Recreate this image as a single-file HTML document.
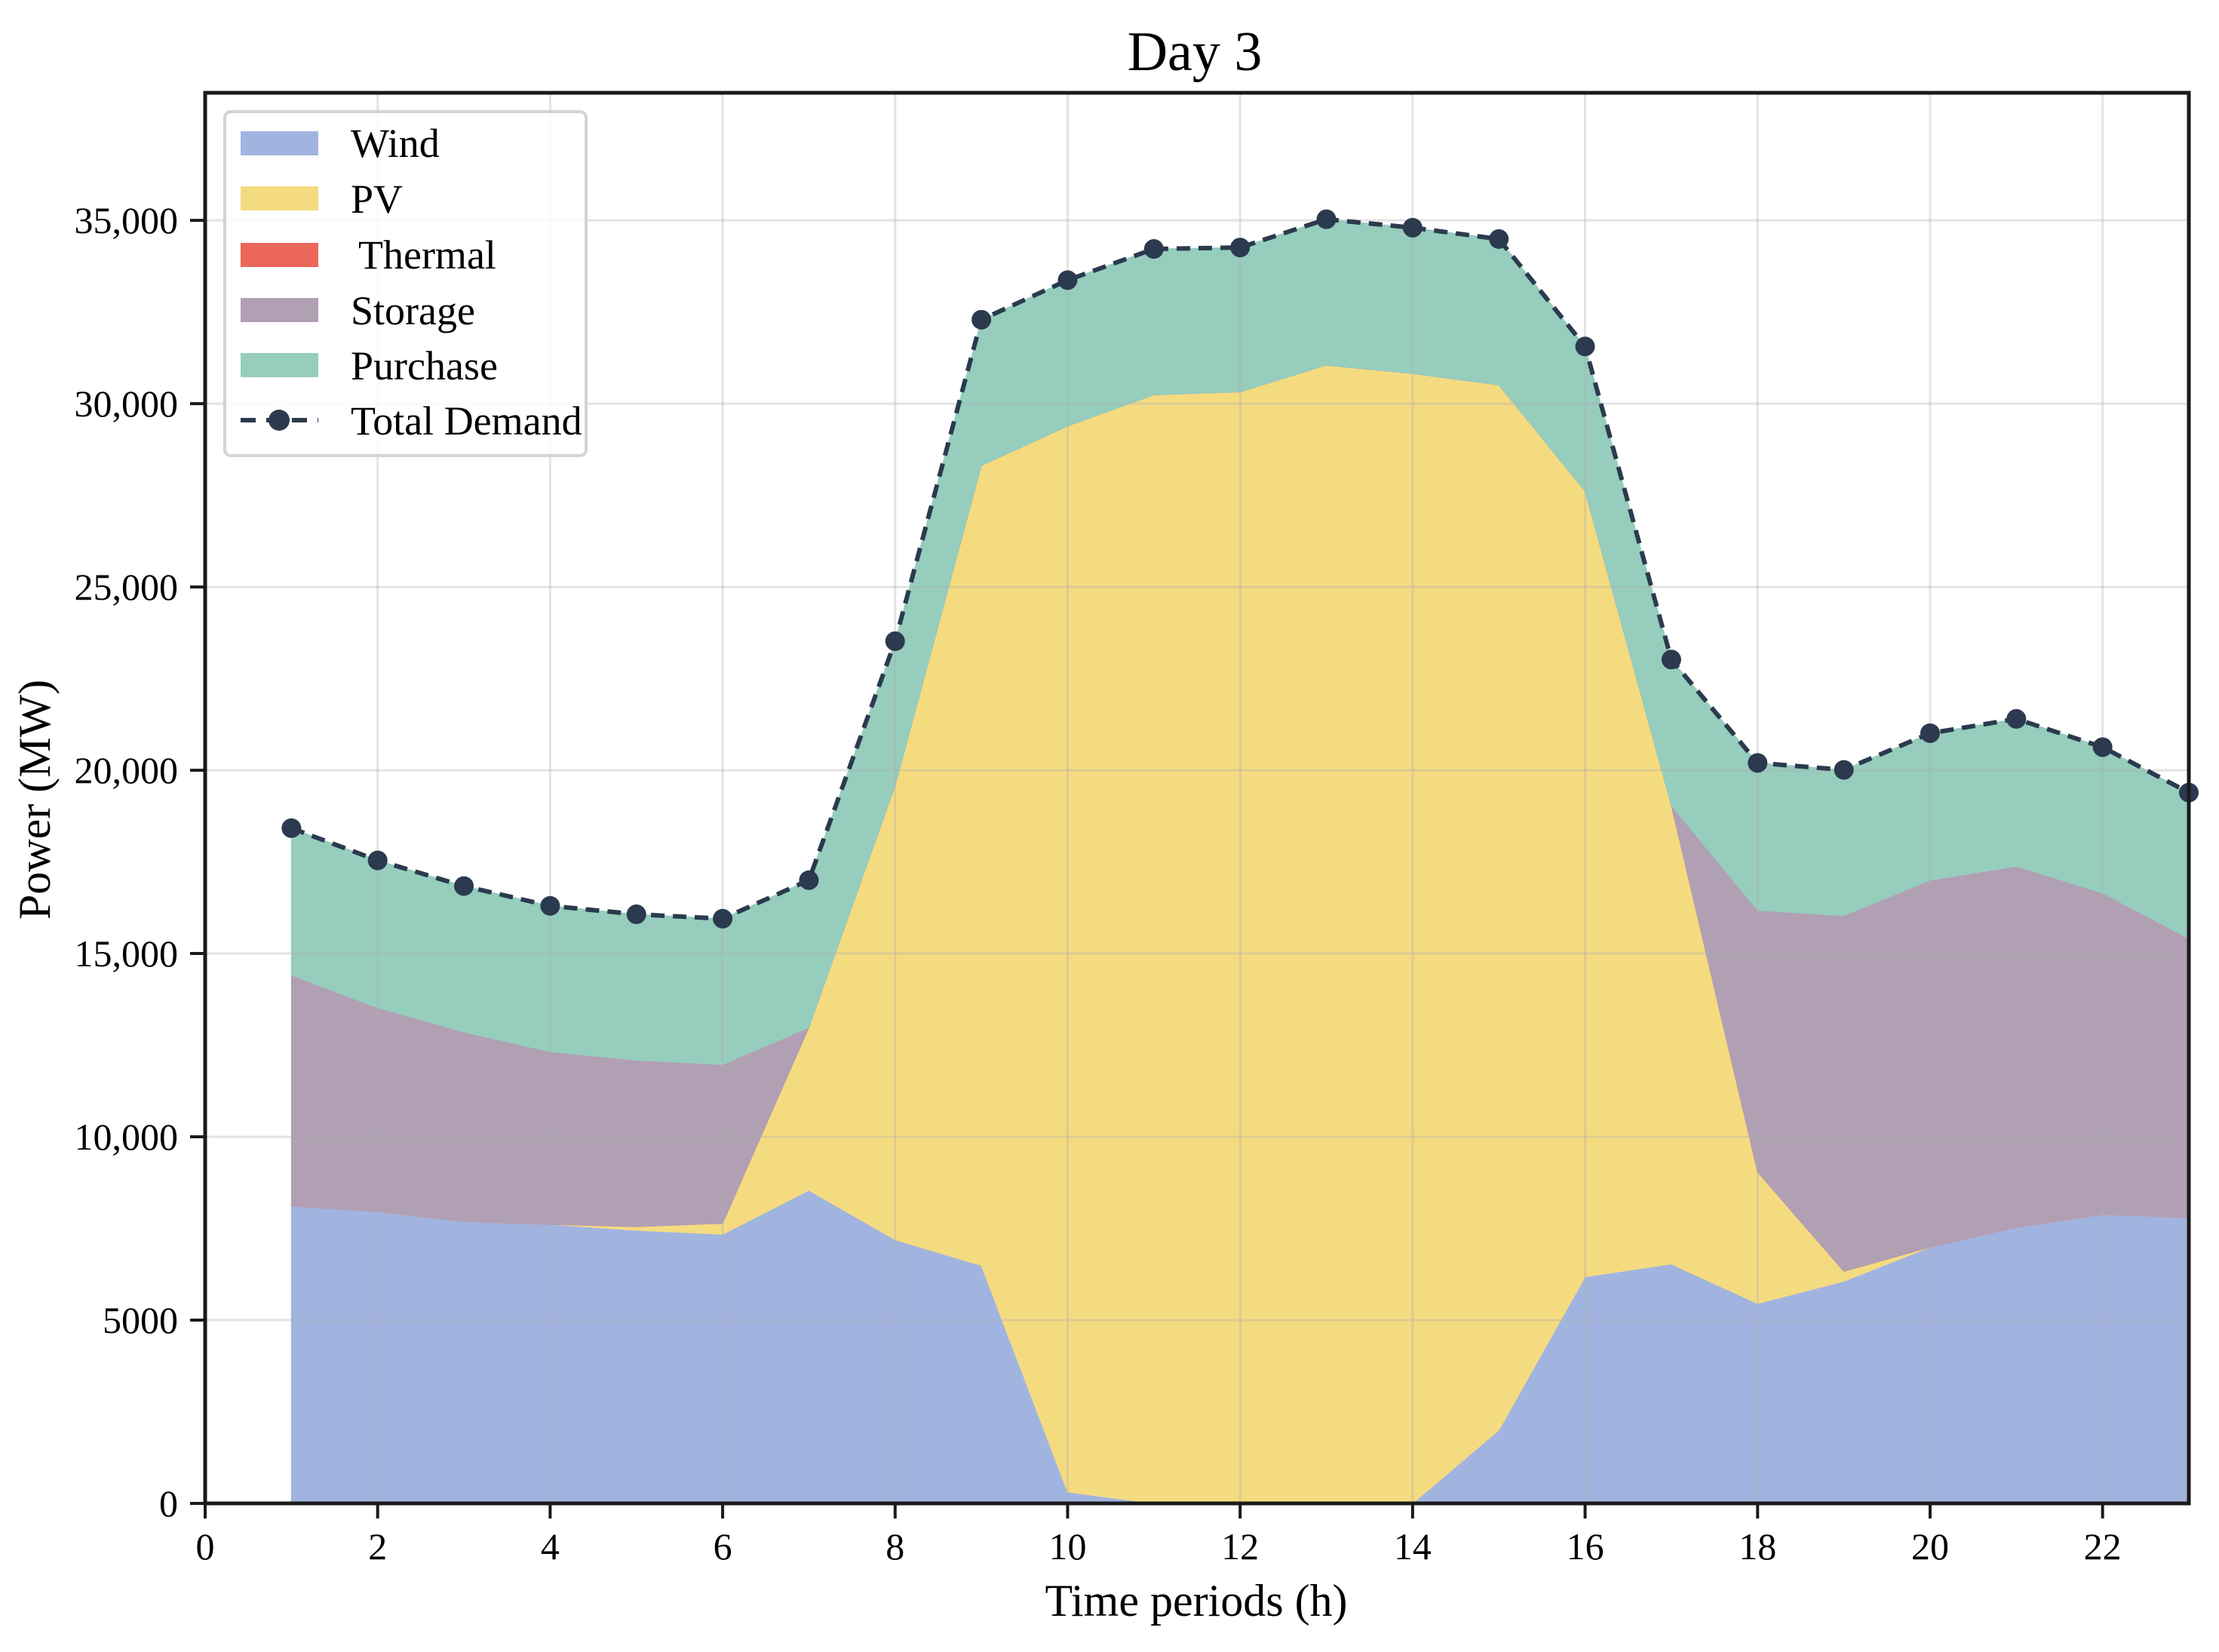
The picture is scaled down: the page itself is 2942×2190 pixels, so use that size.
<!DOCTYPE html>
<html><head><meta charset="utf-8">
<style>
html,body{margin:0;padding:0;background:#fff;}
svg{display:block;font-family:"Liberation Serif","Times New Roman",serif;}
</style></head>
<body>
<svg id="chart" width="2942" height="2190" viewBox="0 0 2942 2190" xmlns="http://www.w3.org/2000/svg">
<g id="areas"></g>
<g id="grid"></g>
<g id="line"></g>
<g id="axes"></g>
<text x="1584" y="93" font-size="74" text-anchor="middle">Day 3</text>
<text x="1586" y="2142" font-size="60" text-anchor="middle">Time periods (h)</text>
<text transform="translate(66,1060) rotate(-90)" font-size="60" text-anchor="middle">Power (MW)</text>
<g>
<rect x="298" y="148" width="479" height="456" rx="8" fill="#fff" fill-opacity="0.85" stroke="#d4d4d4" stroke-width="4"/>
<rect x="319" y="174" width="103" height="32" fill="#a1b4e0"/>
<text x="465" y="208" font-size="54">Wind</text>
<rect x="319" y="247" width="103" height="32" fill="#f5db80"/>
<text x="465" y="282" font-size="54">PV</text>
<rect x="319" y="322" width="103" height="32" fill="#ea6759"/>
<text x="475" y="356" font-size="54">Thermal</text>
<rect x="319" y="395" width="103" height="32" fill="#b19fb4"/>
<text x="465" y="430" font-size="54">Storage</text>
<rect x="319" y="468" width="103" height="32" fill="#96cdbd"/>
<text x="465" y="503" font-size="54">Purchase</text>
<line x1="319" y1="557" x2="422" y2="557" stroke="#2b3a4e" stroke-width="6" stroke-dasharray="20,14"/>
<circle cx="370" cy="557" r="14" fill="#2b3a4e"/>
<text x="465" y="576" font-size="54">Total Demand</text>
</g>
</svg>
<script>
const hours = [1,2,3,4,5,6,7,8,9,10,11,12,13,14,15,16,17,18,19,20,21,22,23];
const wind = [8110,7960,7690,7610,7450,7340,8540,7190,6490,310,0,0,0,0,2000,6180,6530,5450,6060,6990,7530,7880,7800];
const pv = [0,0,0,0,100,300,4440,12390,21820,29080,30240,30320,31050,30820,28510,21430,12510,3590,270,0,0,0,0];
const thermal = [0,0,0,0,0,0,0,0,0,0,0,0,0,0,0,0,0,0,0,0,0,0,0];
const storage = [6300,5560,5170,4710,4540,4330,0,0,0,0,0,0,0,0,0,0,0,7140,9700,10010,9850,8770,7610];
const purchase = [4010,4020,3980,3980,3980,3980,4020,3940,3980,3980,3980,3940,3980,3980,3980,3950,3980,4020,3980,4010,4020,3980,3980];
const demand = [18420,17540,16840,16300,16070,15950,17000,23520,32290,33370,34220,34260,35030,34800,34490,31560,23020,20200,20010,21010,21400,20630,19390];
const xTicks = [0,2,4,6,8,10,12,14,16,18,20,22];
const yTicks = [0,5000,10000,15000,20000,25000,30000,35000];
const yTickLabels = ["0","5000","10,000","15,000","20,000","25,000","30,000","35,000"];

const L=272,R=2902,T=123,B=1993,XMAX=23,YMAX=38480;
const sx=v=>L+(R-L)*v/XMAX;
const sy=v=>B-(B-T)*v/YMAX;
const NS="http://www.w3.org/2000/svg";
function mk(tag,attrs,parent){const e=document.createElementNS(NS,tag);for(const k in attrs)e.setAttribute(k,attrs[k]);parent.appendChild(e);return e;}

const areas=document.getElementById('areas');
const series=[[wind,'#a1b4e0','area-wind'],[pv,'#f5db80','area-pv'],[thermal,'#ea6759','area-thermal'],[storage,'#b19fb4','area-storage'],[purchase,'#96cdbd','area-purchase']];
let base=hours.map(()=>0);
series.forEach(([vals,col,name])=>{
  const top=base.map((b,i)=>b+vals[i]);
  let d='M'+hours.map((h,i)=>sx(h)+','+sy(top[i])).join(' L');
  for(let i=hours.length-1;i>=0;i--) d+=' L'+sx(hours[i])+','+sy(base[i]);
  d+=' Z';
  const p=mk('path',{d:d,fill:col,stroke:col,'stroke-width':1},areas);
  
  
  base=top;
});

const grid=document.getElementById('grid');
xTicks.forEach(t=>{const g=mk('line',{x1:sx(t),x2:sx(t),y1:T,y2:B,stroke:'#b0b0b0','stroke-opacity':0.35,'stroke-width':3},grid);

});
yTicks.forEach(t=>{const g=mk('line',{x1:L,x2:R,y1:sy(t),y2:sy(t),stroke:'#b0b0b0','stroke-opacity':0.35,'stroke-width':3},grid);

});

const line=document.getElementById('line');
const pl=mk('polyline',{points:hours.map((h,i)=>sx(h)+','+sy(demand[i])).join(' '),fill:'none',stroke:'#2b3a4e','stroke-width':6,'stroke-dasharray':'18,11'},line);


hours.forEach((h,i)=>{const c=mk('circle',{cx:sx(h),cy:sy(demand[i]),r:13,fill:'#2b3a4e'},line);

});

const axes=document.getElementById('axes');
const fr=mk('rect',{x:L,y:T,width:R-L,height:B-T,fill:'none',stroke:'#1a1a1a','stroke-width':5},axes);


xTicks.forEach(t=>{
  const tk=mk('line',{x1:sx(t),x2:sx(t),y1:B,y2:B+20,stroke:'#1a1a1a','stroke-width':4},axes);
  
  
  const tx=mk('text',{x:sx(t),y:2067,'font-size':50,'text-anchor':'middle'},axes);
  tx.textContent=String(t);
  
  
});
yTicks.forEach((t,i)=>{
  const tk=mk('line',{x1:L-20,x2:L,y1:sy(t),y2:sy(t),stroke:'#1a1a1a','stroke-width':4},axes);
  
  
  const tx=mk('text',{x:L-36,y:sy(t)+17,'font-size':50,'text-anchor':'end'},axes);
  tx.textContent=yTickLabels[i];
  
  
});
</script>
</body></html>
